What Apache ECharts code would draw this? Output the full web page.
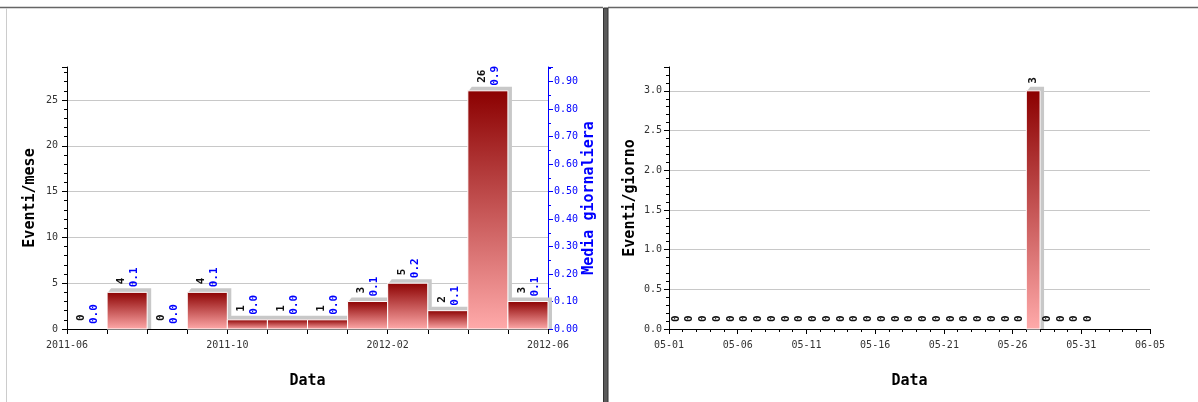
<!DOCTYPE html>
<html>
<head>
<meta charset="utf-8">
<script src="https://cdn.jsdelivr.net/npm/echarts@6/dist/echarts.min.js"></script>
<style>html,body{margin:0;padding:0;background:#fff;}#c{width:1198px;height:402px;}</style>
</head>
<body>
<div id="c"></div>
<script>
// ---- data ----
const months = ['2011-06','2011-07','2011-08','2011-09','2011-10','2011-11','2011-12','2012-01','2012-02','2012-03','2012-04','2012-05'];
const monthlyEvents = [0, 4, 0, 4, 1, 1, 1, 3, 5, 2, 26, 3];
const dailyAverage = [0.0, 0.1, 0.0, 0.1, 0.0, 0.0, 0.0, 0.1, 0.2, 0.1, 0.9, 0.1];
const monthTickLabels = ['2011-06', '2011-10', '2012-02', '2012-06'];

const days = ['05-01','05-02','05-03','05-04','05-05','05-06','05-07','05-08','05-09','05-10','05-11','05-12','05-13','05-14','05-15','05-16','05-17','05-18','05-19','05-20','05-21','05-22','05-23','05-24','05-25','05-26','05-27','05-28','05-29','05-30','05-31'];
const dailyEvents = [0,0,0,0,0,0,0,0,0,0,0,0,0,0,0,0,0,0,0,0,0,0,0,0,0,0,3,0,0,0,0];
const dayTickLabels = ['05-01','05-06','05-11','05-16','05-21','05-26','05-31','06-05'];

const MONO = '"DejaVu Sans Mono", monospace';

function barGroup(api, withAvg) {
  const i = api.value(0), v = api.value(1);
  const base = api.coord([i, 0]);
  const end = api.coord([i + 1, v]);
  const x0 = base[0], x1 = end[0], yB = base[1], yT = end[1];
  const cx = (x0 + x1) / 2;
  const children = [];
  if (v > 0) {
    children.push({
      type: 'polygon',
      shape: { points: [[x0 + 1, yT], [x0 + 4, yT - 4], [x1 + 4, yT - 4], [x1 + 4, yB], [x1, yB]] },
      style: { fill: '#c8c8c8' }
    });
    children.push({
      type: 'rect',
      shape: { x: x0, y: yT, width: x1 - x0, height: yB - yT },
      style: {
        fill: new echarts.graphic.LinearGradient(0, 0, 0, 1, [
          { offset: 0, color: '#8b0000' },
          { offset: 1, color: '#ffaaaa' }
        ]),
        stroke: '#ffffff', lineWidth: 1
      }
    });
  }
  const font = 'bold 11px ' + MONO;
  if (withAvg) {
    children.push({
      type: 'text', x: cx - 6, y: yT - 8, rotation: Math.PI / 2,
      style: { text: String(v), font: font, fill: '#111', align: 'left', verticalAlign: 'middle' }
    });
    children.push({
      type: 'text', x: cx + 7, y: yT - 5, rotation: Math.PI / 2,
      style: { text: api.value(2).toFixed(1), font: font, fill: '#0000ff', align: 'left', verticalAlign: 'middle' }
    });
  } else {
    children.push({
      type: 'text', x: cx, y: yT - 7, rotation: Math.PI / 2,
      style: { text: String(v), font: font, fill: '#111', align: 'left', verticalAlign: 'middle' }
    });
  }
  return { type: 'group', children: children };
}

const axisNameStyle = { fontFamily: MONO, fontSize: 15, fontWeight: 'bold', color: '#000' };
const tickLabelStyle = { fontFamily: MONO, fontSize: 10, color: '#333' };

const option = {
  animation: false,
  backgroundColor: '#fff',
  graphic: [
    { type: 'line', shape: { x1: 0, y1: 7.5, x2: 603, y2: 7.5 }, style: { stroke: '#666', lineWidth: 1.5 } },
    { type: 'line', shape: { x1: 608, y1: 7.5, x2: 1198, y2: 7.5 }, style: { stroke: '#666', lineWidth: 1.5 } },
    { type: 'line', shape: { x1: 6.5, y1: 8, x2: 6.5, y2: 402 }, style: { stroke: '#cccccc', lineWidth: 1 } },
    { type: 'rect', shape: { x: 603.5, y: 8, width: 4.5, height: 400 }, style: { fill: '#5a5a5a', stroke: '#333', lineWidth: 1 } }
  ],
  grid: [
    { left: 67, top: 67, width: 481, height: 262 },
    { left: 669, top: 67, width: 481, height: 262 }
  ],
  xAxis: [
    {
      type: 'value', gridIndex: 0, min: 0, max: 12, interval: 1,
      name: 'Data', nameLocation: 'middle', nameGap: 45, nameTextStyle: axisNameStyle,
      axisLine: { lineStyle: { color: '#000' } },
      axisTick: { show: true, length: 5, lineStyle: { color: '#000' } },
      axisLabel: Object.assign({ margin: 11, formatter: v => (v % 4 === 0 ? monthTickLabels[v / 4] : '') }, tickLabelStyle),
      splitLine: { show: false }
    },
    {
      type: 'value', gridIndex: 1, min: 0, max: 35, interval: 5,
      name: 'Data', nameLocation: 'middle', nameGap: 45, nameTextStyle: axisNameStyle,
      axisLine: { lineStyle: { color: '#000' } },
      axisTick: { show: true, length: 5, lineStyle: { color: '#000' } },
      minorTick: { show: true, splitNumber: 5, length: 3, lineStyle: { color: '#000' } },
      axisLabel: Object.assign({ margin: 11, formatter: v => dayTickLabels[v / 5] || '' }, tickLabelStyle),
      splitLine: { show: false }
    }
  ],
  yAxis: [
    {
      type: 'value', gridIndex: 0, min: 0, max: 28.6, interval: 5, position: 'left',
      name: 'Eventi/mese', nameLocation: 'middle', nameGap: 29, nameRotate: 90, nameTextStyle: axisNameStyle,
      axisLine: { show: true, lineStyle: { color: '#000' } },
      axisTick: { show: true, length: 5, lineStyle: { color: '#000' } },
      minorTick: { show: true, splitNumber: 5, length: 3, lineStyle: { color: '#000' } },
      axisLabel: Object.assign({ margin: 9, showMaxLabel: false }, tickLabelStyle),
      splitLine: { show: true, showMinLine: false, showMaxLine: false, lineStyle: { color: '#c8c8c8' } }
    },
    {
      type: 'value', gridIndex: 0, min: 0, max: 0.95333, interval: 0.1, position: 'right',
      name: 'Media giornaliera', nameLocation: 'middle', nameGap: 32, nameRotate: 90,
      nameTextStyle: Object.assign({}, axisNameStyle, { color: '#0000ff' }),
      axisLine: { show: true, lineStyle: { color: '#0000ff' } },
      axisTick: { show: true, length: 5, lineStyle: { color: '#0000ff' } },
      minorTick: { show: true, splitNumber: 2, length: 3, lineStyle: { color: '#0000ff' } },
      axisLabel: Object.assign({}, tickLabelStyle, { color: '#0000ff', margin: 6, showMaxLabel: false, formatter: v => v.toFixed(2) }),
      splitLine: { show: false }
    },
    {
      type: 'value', gridIndex: 1, min: 0, max: 3.3, interval: 0.5, position: 'left',
      name: 'Eventi/giorno', nameLocation: 'middle', nameGap: 31, nameRotate: 90, nameTextStyle: axisNameStyle,
      axisLine: { show: true, lineStyle: { color: '#000' } },
      axisTick: { show: true, length: 5, lineStyle: { color: '#000' } },
      minorTick: { show: true, splitNumber: 5, length: 3, lineStyle: { color: '#000' } },
      axisLabel: Object.assign({ margin: 7, showMaxLabel: false, formatter: v => v.toFixed(1) }, tickLabelStyle),
      splitLine: { show: true, showMinLine: false, showMaxLine: false, lineStyle: { color: '#c8c8c8' } }
    }
  ],
  series: [
    {
      type: 'custom', xAxisIndex: 0, yAxisIndex: 0, clip: false,
      renderItem: (params, api) => barGroup(api, true),
      encode: { x: 0, y: 1 },
      data: monthlyEvents.map((v, i) => [i, v, dailyAverage[i], months[i]])
    },
    {
      type: 'custom', xAxisIndex: 1, yAxisIndex: 2, clip: false,
      renderItem: (params, api) => barGroup(api, false),
      encode: { x: 0, y: 1 },
      data: dailyEvents.map((v, i) => [i, v, 0, days[i]])
    }
  ]
};

const chart = echarts.init(document.getElementById('c'), null, { renderer: 'canvas' });
chart.setOption(option);
</script>
</body>
</html>
